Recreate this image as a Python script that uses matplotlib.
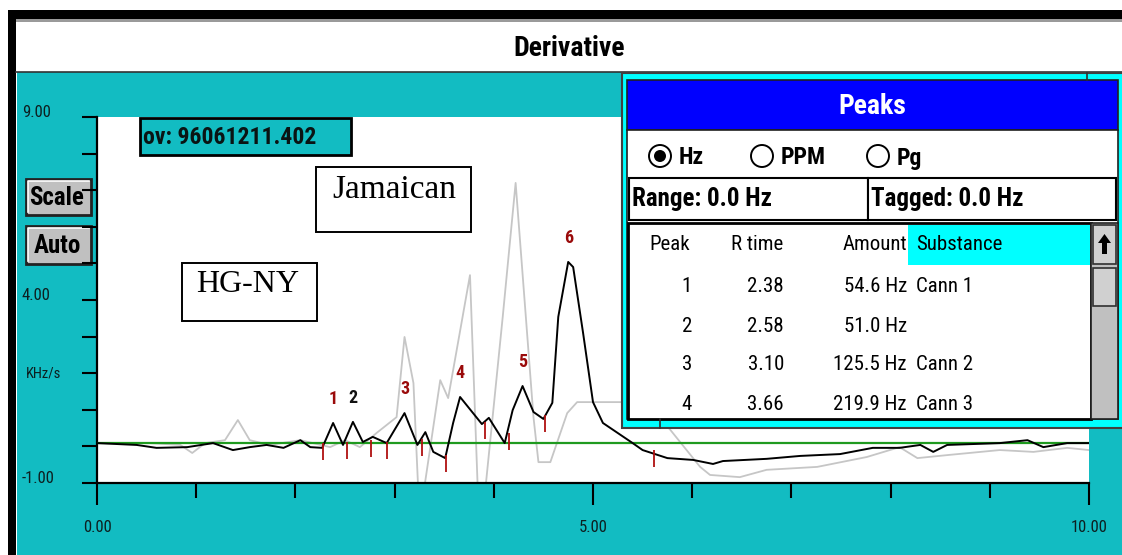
import matplotlib
matplotlib.use('Agg')
import matplotlib.pyplot as plt
from matplotlib.patches import Rectangle, Circle, Polygon

# HG-NY derivative trace (black)
hgny_t = [0.0, 0.40, 0.60, 0.91, 1.17, 1.37, 1.54, 1.71, 1.88, 2.05,
          2.15, 2.27, 2.38, 2.48, 2.58, 2.68, 2.78, 2.92, 3.10, 3.23,
          3.31, 3.39, 3.51, 3.59, 3.66, 3.88, 3.95, 4.11, 4.19, 4.29,
          4.40, 4.50, 4.59, 4.65, 4.75, 4.80, 4.90, 5.00, 5.10, 5.40,
          5.50, 5.75, 6.01, 6.21, 6.31, 6.75, 7.09, 7.49, 7.82, 8.09,
          8.30, 8.43, 8.57, 9.10, 9.38, 9.54, 9.78, 10.0]
hgny_v = [0.09, 0.04, -0.04, -0.02, 0.09, -0.10, -0.02, 0.04, -0.04, 0.17,
          -0.02, -0.04, 0.64, 0.04, 0.67, 0.12, 0.26, 0.09, 0.91, 0.04,
          0.39, -0.15, -0.32, 0.64, 1.35, 0.61, 0.78, 0.09, 0.99, 1.65,
          0.94, 0.75, 1.19, 3.54, 5.04, 4.90, 3.10, 1.21, 0.64, 0.09,
          -0.10, -0.32, -0.37, -0.48, -0.40, -0.34, -0.26, -0.21, -0.04, -0.04,
          0.04, -0.15, 0.04, 0.09, 0.17, -0.02, 0.09, 0.09]

# Jamaican derivative trace (grey)
jam_t = [0.0, 0.53, 0.84, 0.96, 1.09, 1.29, 1.42, 1.54, 1.74, 2.05,
         2.35, 2.50, 2.65, 2.82, 3.02, 3.10, 3.19, 3.24, 3.29, 3.46,
         3.54, 3.76, 3.84, 3.91, 4.09, 4.22, 4.40, 4.45, 4.57, 4.74,
         4.84, 5.27, 5.45, 5.60, 5.78, 6.08, 6.18, 6.48, 6.75, 7.26,
         7.76, 8.09, 8.27, 8.60, 9.10, 9.44, 9.78, 10.0]
jam_v = [0.09, 0.09, 0.04, -0.18, 0.09, 0.17, 0.72, 0.17, 0.04, 0.17,
         -0.02, 0.17, -0.02, 0.37, 0.80, 2.99, 1.73, -1.3, -1.3, 1.81,
         1.32, 4.68, -1.3, -1.3, 3.54, 7.20, 0.80, -0.43, -0.43, 0.91,
         1.21, 1.21, 1.20, 1.00, 0.45, -0.56, -0.78, -0.84, -0.64, -0.56,
         -0.29, -0.02, -0.32, -0.23, -0.10, -0.15, -0.04, -0.10]

baseline = 0.09

# integration boundary marks
mark_t = [2.28, 2.52, 2.76, 2.92, 3.28, 3.52, 3.91, 4.15, 4.52, 5.61]
mark_v = [0.09, 0.12, 0.17, 0.12, 0.20, -0.23, 0.67, 0.37, 0.86, -0.10]
mark_len = 0.47

# detected peaks (apex)
peak_num = ['1', '2', '3', '4', '5', '6']
peak_t = [2.38, 2.58, 3.10, 3.66, 4.29, 4.75]
peak_v = [0.64, 0.67, 0.91, 1.35, 1.65, 5.04]
peak_col = ['#9a0a0a', '#111111', '#9a0a0a', '#9a0a0a', '#9a0a0a', '#9a0a0a']

# peak table
tbl_peak = ['1', '2', '3', '4']
tbl_rtime = ['2.38', '2.58', '3.10', '3.66']
tbl_amount = [54.6, 51.0, 125.5, 219.9]
tbl_subst = ['Cann 1', '', 'Cann 2', 'Cann 3']

x_ticks = [0, 5, 10]
x_labels = ['0.00', '5.00', '10.00']
y_ticks = [-1, 4, 9]
y_labels = ['-1.00', '4.00', '9.00']

UI = dict(family=['Roboto Condensed', 'DejaVu Sans'], stretch='condensed')
SERIF = ['Liberation Serif', 'DejaVu Serif']
TEAL = '#12bcc2'
CYAN = '#00ffff'
GREY = '#c0c0c0'

W, H = 1122, 555
fig = plt.figure(figsize=(W / 100, H / 100), dpi=100, facecolor='white')


def px_axes(z):
    a = fig.add_axes([0, 0, 1, 1], zorder=z)
    a.set_xlim(0, W)
    a.set_ylim(H, 0)
    a.axis('off')
    a.patch.set_visible(False)
    return a


def box(a, x0, y0, x1, y1, fc, ec='black', lw=1.5, z=1):
    a.add_patch(Rectangle((x0, y0), x1 - x0, y1 - y0, facecolor=fc,
                          edgecolor=ec, linewidth=lw, zorder=z))


# window frame, caption and buttons
bg = px_axes(0)
box(bg, 8, 10, W, 19, 'black', ec='none')
box(bg, 8, 10, 16, H, 'black', ec='none')
box(bg, 16, 19, W, 22, '#9a9a9a', ec='none')
box(bg, 16, 22, W, 71, 'white', ec='none')
bg.plot([16, W], [71.5, 71.5], color='#333333', lw=1.2)
box(bg, 17, 72, W, H, TEAL, ec='none')
bg.text(569, 48, 'Derivative', **UI, fontsize=20, fontweight='bold',
        ha='center', va='center')

for (y0, y1, lab) in [(179, 215, 'Scale'), (226, 264, 'Auto')]:
    box(bg, 26, y0, 91, y1, GREY, ec='#222222', lw=2)
    bg.plot([28, 28, 89], [y1 - 3, y0 + 2, y0 + 2], color='white', lw=1.2)
    bg.text(57, (y0 + y1) / 2 + 1, lab, **UI, fontsize=18,
            fontweight='bold', ha='center', va='center')

# chart
ax = fig.add_axes([97 / W, 1 - 483 / H, 992 / W, 366 / H], zorder=1)
ax.set_facecolor('white')
ax.set_xlim(0, 10)
ax.set_ylim(-1, 9)
ax.plot(jam_t, jam_v, color='#c6c6c6', lw=1.3, zorder=2)
ax.plot([0, 10], [baseline, baseline], color='#1f9a1f', lw=1.6, zorder=3)
ax.plot(hgny_t, hgny_v, color='black', lw=1.4, zorder=4)
ax.vlines(mark_t, [v - mark_len for v in mark_v], mark_v,
          color='#b01010', lw=1.3, zorder=5)
for n, t, v, c in zip(peak_num, peak_t, peak_v, peak_col):
    ax.annotate(n, (t, v), xytext=(0, 17), textcoords='offset points',
                ha='center', va='center', color=c, fontsize=13,
                fontweight='bold', **UI, zorder=6)

for s in ['top', 'right']:
    ax.spines[s].set_visible(False)
for s in ['left', 'bottom']:
    ax.spines[s].set_linewidth(1.6)
ax.set_xticks(x_ticks, x_labels, **UI, fontsize=12, color='#0d1f20')
ax.set_xticks(range(11), minor=True)
ax.set_yticks(y_ticks, y_labels, **UI, fontsize=12, color='#0d1f20',
              ha='left', va='baseline')
ax.set_yticks(range(-1, 10), minor=True)
ax.tick_params(axis='x', which='major', length=16, width=1.5, pad=11)
ax.tick_params(axis='x', which='minor', length=11, width=1.5)
ax.tick_params(axis='y', which='both', length=11, width=1.5, pad=43)
ax.text(-0.072, 2, 'KHz/s', transform=ax.get_yaxis_transform(),
        **UI, fontsize=10.5, color='#0d1f20', ha='left', va='center')

# overlays: sample id, labels and peaks dialog
fg = px_axes(2)
box(fg, 140, 118, 351, 155, TEAL, lw=2)
fg.text(143, 138, 'ov: 96061211.402', **UI, fontsize=17,
        fontweight='bold', ha='left', va='center', color='#0a1414')

box(fg, 316, 167, 471, 232, 'white', lw=1.4)
fg.text(394, 190, 'Jamaican', family=SERIF, fontsize=24, ha='center',
        va='center')
box(fg, 182, 263, 317, 321, 'white', lw=1.4)
fg.text(248, 285, 'HG-NY', family=SERIF, fontsize=23, ha='center',
        va='center')

# dialog frame
box(fg, 622, 73, W + 5, 428, CYAN, ec='#404040', lw=1.5)
box(fg, 627, 80, 1118, 130, '#0000ff', ec='#202020', lw=1.2)
fg.text(872, 106, 'Peaks', **UI, fontsize=20, fontweight='bold',
        color='white', ha='center', va='center')
box(fg, 627, 130, 1118, 419, 'white', ec='#202020', lw=1.2)
fg.plot([1087, 1087], [73, 80], color='#303030', lw=1.2)
fg.plot([660, 660], [419, 428], color='#303030', lw=1.2)

# radio buttons
radio = [(660, 'Hz', True), (762, 'PPM', False), (878, 'Pg', False)]
for cx, lab, on in radio:
    fg.add_patch(Circle((cx, 156), 11, facecolor='white', edgecolor='black',
                        lw=1.4, zorder=3))
    if on:
        fg.add_patch(Circle((cx, 156), 6, facecolor='black', zorder=4))
    fg.text(cx + 19, 158, lab, **UI, fontsize=17, fontweight='bold',
            ha='left', va='center')

box(fg, 629, 178, 868, 220, 'white', lw=1.5)
box(fg, 868, 178, 1116, 220, 'white', lw=1.5)
fg.text(632, 199, 'Range: 0.0 Hz', **UI, fontsize=18, fontweight='bold',
        ha='left', va='center')
fg.text(871, 199, 'Tagged: 0.0 Hz', **UI, fontsize=18,
        fontweight='bold', ha='left', va='center')

# peak list
box(fg, 628, 223, 1091, 419, 'white', lw=2)
box(fg, 908, 225, 1090, 265, CYAN, ec='none')
hdr_y = 245
fg.text(670, hdr_y, 'Peak', **UI, fontsize=15, ha='center', va='center')
fg.text(757, hdr_y, 'R time', **UI, fontsize=15, ha='center',
        va='center')
fg.text(907, hdr_y, 'Amount', **UI, fontsize=15, ha='right',
        va='center')
fg.text(916, hdr_y, 'Substance', **UI, fontsize=15, ha='left',
        va='center')
row_y = [287, 326, 365, 404]
for y, p, rt, am, sb in zip(row_y, tbl_peak, tbl_rtime, tbl_amount,
                            tbl_subst):
    fg.text(692, y, p, **UI, fontsize=15, ha='right', va='center')
    fg.text(784, y, rt, **UI, fontsize=15, ha='right', va='center')
    fg.text(907, y, f'{am:.1f} Hz', **UI, fontsize=15, ha='right',
            va='center')
    fg.text(916, y, sb, **UI, fontsize=15, ha='left', va='center')

# scrollbar
box(fg, 1091, 223, 1118, 419, GREY, ec='#202020', lw=1.2)
box(fg, 1093, 225, 1116, 264, '#d0d0d0', ec='#303030', lw=1.2)
fg.add_patch(Polygon([(1104.5, 234), (1098, 243), (1102, 243), (1102, 254),
                      (1107, 254), (1107, 243), (1111, 243)],
                     facecolor='black', edgecolor='none', zorder=3))
box(fg, 1093, 268, 1116, 306, '#d0d0d0', ec='#303030', lw=1.2)

fig.savefig('out.png', dpi=100, facecolor='white')
